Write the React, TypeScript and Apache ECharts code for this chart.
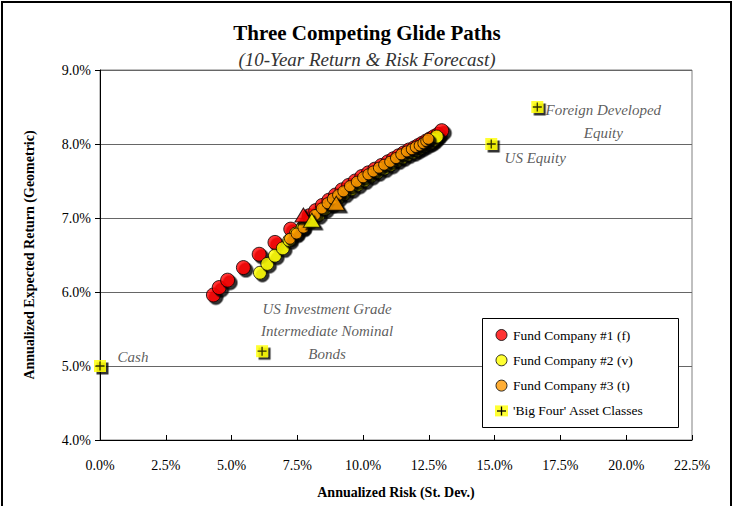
import React, { useEffect, useRef } from "react";
import * as echarts from "echarts";

const FONT = "'Liberation Serif', 'Times New Roman', serif";

// Fund Company #1 (f): [risk %, return %]
const fund1Points: number[][] = [
  [4.31, 5.96], [4.53, 6.06], [4.85, 6.16], [5.45, 6.33], [6.05, 6.51], [6.65, 6.67], [7.25, 6.85],
  [7.95, 7.03], [8.2, 7.1], [8.45, 7.17], [8.7, 7.24], [8.95, 7.31], [9.2, 7.38], [9.45, 7.44],
  [9.7, 7.5], [9.95, 7.56], [10.2, 7.61], [10.45, 7.66], [10.7, 7.71], [10.95, 7.76], [11.15, 7.8],
  [11.35, 7.84], [11.55, 7.88], [11.75, 7.92], [11.95, 7.95], [12.1, 7.98], [12.25, 8.01], [12.4, 8.04],
  [12.55, 8.07], [12.7, 8.1], [12.85, 8.13], [12.99, 8.18],
];
const fund1Current: number[][] = [[7.73, 7.04]];

// Fund Company #2 (v)
const fund2Points: number[][] = [
  [6.08, 6.26], [6.36, 6.38], [6.65, 6.49], [6.95, 6.59], [7.2, 6.7], [7.45, 6.79], [7.7, 6.87],
  [8.3, 7.04], [8.55, 7.12], [8.8, 7.19], [9.05, 7.27], [9.3, 7.33], [9.55, 7.39], [9.8, 7.45],
  [10.05, 7.51], [10.3, 7.57], [10.55, 7.62], [10.8, 7.67], [11.05, 7.72], [11.3, 7.78], [11.5, 7.82],
  [11.7, 7.86], [11.9, 7.89], [12.05, 7.92], [12.2, 7.95], [12.35, 7.98], [12.5, 8.01], [12.6, 8.03],
  [12.7, 8.06], [12.8, 8.1],
];
const fund2Current: number[][] = [[8.05, 6.97]];

// Fund Company #3 (t)
const fund3Points: number[][] = [
  [7.22, 6.72], [7.47, 6.79], [7.73, 6.87], [7.95, 6.96], [8.17, 7.04], [8.43, 7.13], [8.65, 7.2],
  [8.85, 7.26], [9.05, 7.31], [9.25, 7.36], [9.5, 7.43], [9.76, 7.49], [10.0, 7.55], [10.2, 7.59],
  [10.39, 7.63], [10.6, 7.68], [10.8, 7.72], [11.03, 7.76], [11.25, 7.81], [11.45, 7.86], [11.66, 7.9],
  [11.85, 7.93], [12.0, 7.96], [12.15, 7.98], [12.29, 8.01], [12.4, 8.04], [12.48, 8.07],
];
const fund3Current: number[][] = [[8.98, 7.2]];

// 'Big Four' asset classes
const assetNames: string[] = ["Cash", "US Investment Grade\nIntermediate Nominal\nBonds", "US Equity", "Foreign Developed\nEquity"];
const assetRisk: number[] = [0.0, 6.16, 14.87, 16.62];
const assetReturn: number[] = [5.0, 5.2, 8.0, 8.5];

const xTicks = { min: 0, max: 22.5, interval: 2.5 };
const yTicks = { min: 4, max: 9, interval: 1 };

const SERIES1 = "Fund Company #1 (f)";
const SERIES2 = "Fund Company #2 (v)";
const SERIES3 = "Fund Company #3 (t)";
const SERIES4 = "'Big Four' Asset Classes";

const RED = "#FF0000";
const YELLOW = "#FFFF00";
const ORANGE = "#FF9900";

const shadow = { shadowColor: "#000", shadowOffsetX: 2.5, shadowOffsetY: 2.5, shadowBlur: 0 };

const labelOffsets: number[][] = [[33, -9], [65, -20], [44, 14], [66, 14.5]];

export default function App() {
  const ref = useRef<HTMLDivElement>(null);
  useEffect(() => {
    if (!ref.current) return;
    const chart = echarts.init(ref.current, undefined, { renderer: "svg" });
    const circleSeries = (name: string, data: number[][], color: string, size: number) => ({
      type: "scatter",
      name,
      data,
      symbol: "circle",
      symbolSize: size,
      itemStyle: { color, borderColor: "#000", borderWidth: 1, ...shadow },
      emphasis: { disabled: true },
      silent: true,
    });
    const triSeries = (name: string, data: number[][], color: string) => ({
      type: "scatter",
      name,
      data,
      symbol: "triangle",
      symbolSize: [17, 14],
      itemStyle: { color, borderColor: "#000", borderWidth: 1, ...shadow },
      emphasis: { disabled: true },
      silent: true,
    });
    const assetData = assetRisk.map((r, i) => ({
      value: [r, assetReturn[i]],
      name: assetNames[i],
      label: {
        show: true,
        position: "inside",
        offset: labelOffsets[i],
        formatter: assetNames[i],
        align: "center",
        verticalAlign: "middle",
        fontFamily: FONT,
        fontStyle: "italic",
        fontSize: 15,
        lineHeight: 22.5,
        color: "#333",
      },
    }));
    const legendTextStyle = { fontFamily: FONT, fontSize: 13.5, color: "#000", lineHeight: 16 };
    const noShadow = { shadowBlur: 0, shadowOffsetX: 0, shadowOffsetY: 0, shadowColor: "transparent" };
    const option: any = {
      animation: false,
      backgroundColor: "#fff",
      title: [
        {
          text: "Three Competing Glide Paths",
          left: "center",
          top: 17,
          textStyle: { fontFamily: FONT, fontSize: 21, fontWeight: "bold", color: "#000" },
        },
        {
          text: "(10-Year Return & Risk Forecast)",
          left: "center",
          top: 45,
          textStyle: { fontFamily: FONT, fontSize: 19, fontStyle: "italic", fontWeight: "normal", color: "#333" },
        },
      ],
      grid: { left: 100, right: 42, top: 70, bottom: 66, show: true, borderColor: "#808080", borderWidth: 1 },
      xAxis: {
        type: "value",
        min: xTicks.min,
        max: xTicks.max,
        interval: xTicks.interval,
        axisLine: { show: true, onZero: false, lineStyle: { color: "#000", width: 1 } },
        axisTick: { show: true, inside: true, length: 5, lineStyle: { color: "#000" } },
        axisLabel: { formatter: (v: number) => v.toFixed(1) + "%", margin: 18, fontFamily: FONT, fontSize: 14, color: "#000" },
        splitLine: { show: false },
        name: "Annualized Risk (St. Dev.)",
        nameLocation: "middle",
        nameGap: 45,
        nameTextStyle: { fontFamily: FONT, fontSize: 14, fontWeight: "bold", color: "#000" },
      },
      yAxis: {
        type: "value",
        min: yTicks.min,
        max: yTicks.max,
        interval: yTicks.interval,
        axisLine: { show: true, onZero: false, lineStyle: { color: "#000", width: 1 } },
        axisTick: { show: true, inside: false, length: 5, lineStyle: { color: "#000" } },
        axisLabel: { formatter: (v: number) => v.toFixed(1) + "%", margin: 9, fontFamily: FONT, fontSize: 14, color: "#000" },
        splitLine: { show: true, lineStyle: { color: "#666", width: 1 } },
        name: "Annualized Expected Return (Geometric)",
        nameLocation: "middle",
        nameGap: 64,
        nameTextStyle: { fontFamily: FONT, fontSize: 14, fontWeight: "bold", color: "#000" },
      },
      legend: {
        orient: "vertical",
        left: 482,
        top: 318,
        padding: [9, 10, 8, 13],
        itemWidth: 13,
        itemHeight: 11,
        itemGap: 9.3,
        selectedMode: false,
        textStyle: legendTextStyle,
        z: 5,
        data: [
          { name: SERIES1, icon: "circle", itemStyle: { color: RED, borderColor: "#000", borderWidth: 1, ...noShadow } },
          { name: SERIES2, icon: "circle", itemStyle: { color: YELLOW, borderColor: "#000", borderWidth: 1, ...noShadow } },
          { name: SERIES3, icon: "circle", itemStyle: { color: ORANGE, borderColor: "#000", borderWidth: 1, ...noShadow } },
          { name: SERIES4, icon: "rect", itemStyle: { color: YELLOW, borderWidth: 0, ...noShadow } },
        ],
      },
      graphic: [
        { type: "rect", z: -1, shape: { x: 2, y: 2, width: 729, height: 520 }, style: { fill: "none", stroke: "#000", lineWidth: 2 } },
        { type: "rect", z: 3, shape: { x: 482.5, y: 318.5, width: 196, height: 109 }, style: { fill: "#fff", stroke: "#000", lineWidth: 1 } },
        { type: "line", z: 10, shape: { x1: 497, y1: 411, x2: 506, y2: 411 }, style: { stroke: "#000", lineWidth: 1.3 } },
        { type: "line", z: 10, shape: { x1: 501.5, y1: 406.5, x2: 501.5, y2: 415.5 }, style: { stroke: "#000", lineWidth: 1.3 } },
      ],
      series: [
        circleSeries(SERIES1, fund1Points, RED, 14),
        circleSeries(SERIES2, fund2Points, YELLOW, 13),
        circleSeries(SERIES3, fund3Points, ORANGE, 11),
        triSeries("f-current", fund1Current, RED),
        triSeries("v-current", fund2Current, YELLOW),
        triSeries("t-current", fund3Current, ORANGE),
        {
          type: "scatter",
          name: SERIES4,
          data: assetData,
          symbol: "rect",
          symbolSize: 12,
          itemStyle: { color: YELLOW, borderWidth: 0, ...shadow },
          emphasis: { disabled: true },
          silent: true,
        },
        {
          type: "scatter",
          name: "asset-plus",
          data: assetRisk.map((r, i) => [r, assetReturn[i]]),
          symbol: "path://M0 5 L10 5 M5 0 L5 10",
          symbolSize: 9,
          itemStyle: { color: "transparent", borderColor: "#000", borderWidth: 1.3 },
          emphasis: { disabled: true },
          silent: true,
          z: 3,
        },
      ],
    };
    chart.setOption(option);
    return () => chart.dispose();
  }, []);
  return <div ref={ref} style={{ position: "fixed", left: 0, top: 0, width: 734, height: 506 }} />;
}
